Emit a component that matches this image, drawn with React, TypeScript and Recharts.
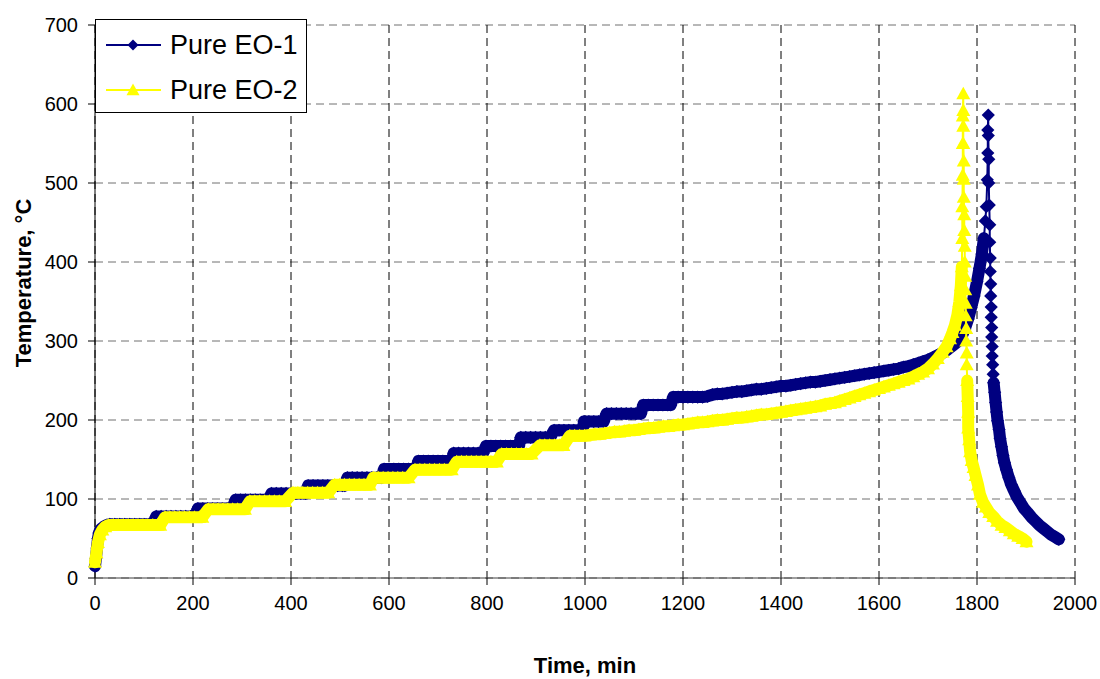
import {
  ScatterChart,
  Scatter,
  XAxis,
  YAxis,
  CartesianGrid,
  Legend,
} from "recharts";

// time (min), temperature (°C)
const eo1Points: [number, number][] = [
  [0, 15], [2, 25], [4, 38], [6, 50], [8, 57], [12, 62], [18, 65], [24, 67],
  [30, 68], [40, 68], [50, 68], [60, 68], [70, 68], [80, 68], [90, 68], [100, 68], [110, 68], [118, 68],
  [125, 78], [135, 78], [145, 78], [155, 78], [165, 78], [175, 78], [185, 78], [195, 78], [204, 78],
  [210, 88], [220, 88], [230, 88], [240, 88], [250, 88], [260, 88], [270, 88], [280, 88],
  [287, 99], [297, 99], [307, 99], [317, 99], [327, 99], [337, 99], [347, 99], [355, 99],
  [360, 107], [370, 107], [380, 107], [390, 107], [400, 107], [410, 107], [420, 107], [430, 107],
  [435, 117], [445, 117], [455, 117], [465, 117], [475, 117], [485, 117], [495, 117], [505, 117], [510, 117],
  [515, 127], [525, 127], [535, 127], [545, 127], [555, 127], [565, 127], [575, 127], [585, 127],
  [590, 138], [600, 138], [610, 138], [620, 138], [630, 138], [640, 138], [650, 138], [655, 138],
  [660, 148], [670, 148], [680, 148], [690, 148], [700, 148], [710, 148], [720, 148], [728, 148],
  [732, 158], [742, 158], [752, 158], [762, 158], [772, 158], [782, 158], [792, 158],
  [798, 167], [808, 167], [818, 167], [828, 167], [838, 167], [848, 167], [858, 167], [865, 167],
  [869, 178], [879, 178], [889, 178], [899, 178], [909, 178], [919, 178], [929, 178],
  [937, 187], [947, 187], [957, 187], [967, 187], [977, 187], [987, 187], [995, 187],
  [998, 198], [1008, 198], [1018, 198], [1028, 198], [1038, 198],
  [1044, 208], [1054, 208], [1064, 208], [1074, 208], [1084, 208], [1094, 208], [1104, 208], [1114, 208],
  [1119, 219], [1129, 219], [1139, 219], [1149, 219], [1159, 219], [1169, 219], [1175, 219],
  [1180, 229], [1190, 229], [1200, 229], [1210, 229], [1220, 229], [1230, 229], [1240, 229], [1250, 230],
  [1260, 232], [1270, 233], [1280, 233], [1290, 234], [1300, 235], [1310, 236], [1320, 236], [1330, 237],
  [1340, 238], [1350, 239], [1360, 239], [1370, 240], [1380, 241], [1390, 242], [1400, 243], [1410, 243],
  [1420, 244], [1430, 245], [1440, 246], [1450, 247], [1460, 248], [1470, 248], [1480, 249], [1490, 250],
  [1500, 251], [1510, 252], [1520, 253], [1530, 254], [1540, 255], [1550, 256], [1560, 257], [1570, 258],
  [1580, 259], [1590, 260], [1600, 261], [1610, 262], [1620, 263], [1630, 264], [1640, 265], [1650, 267],
  [1660, 268], [1670, 270], [1680, 272], [1690, 274], [1700, 276], [1710, 279], [1720, 282], [1730, 285],
  [1740, 289], [1750, 294], [1760, 299], [1768, 305], [1775, 315], [1782, 328], [1788, 342], [1794, 357],
  [1800, 375], [1805, 392], [1810, 410], [1814, 430], [1817, 452], [1819, 470], [1821, 504], [1822, 538],
  [1822, 567], [1823, 586],
  [1823, 560], [1824, 530], [1824, 500], [1825, 472], [1826, 447], [1826, 425], [1827, 405], [1827, 388],
  [1828, 372], [1828, 357], [1829, 343], [1829, 330], [1830, 317], [1830, 305], [1831, 293], [1831, 281],
  [1832, 270], [1833, 258], [1834, 247], [1836, 235], [1838, 222], [1840, 210], [1842, 199], [1845, 188],
  [1847, 177], [1850, 166], [1853, 155], [1856, 146], [1860, 137], [1865, 127], [1870, 118], [1876, 110],
  [1882, 102], [1889, 95], [1896, 88], [1903, 83], [1911, 77], [1919, 72], [1927, 67], [1935, 63],
  [1943, 59], [1951, 55], [1959, 52], [1967, 49],
];

const eo2Points: [number, number][] = [
  [0, 20], [3, 32], [6, 45], [10, 55], [15, 61], [21, 65],
  [28, 67], [38, 67], [48, 67], [58, 67], [68, 67], [78, 67], [88, 67], [98, 67], [108, 67], [118, 67], [128, 67], [133, 67],
  [143, 77], [153, 77], [163, 77], [173, 77], [183, 77], [193, 77], [203, 77], [213, 77], [219, 77],
  [231, 87], [241, 87], [251, 87], [261, 87], [271, 87], [281, 87], [291, 87], [301, 87], [306, 87],
  [316, 97], [326, 97], [336, 97], [346, 97], [356, 97], [366, 97], [376, 97], [388, 97],
  [404, 108], [414, 108], [424, 108], [434, 108], [444, 108], [454, 108], [464, 108], [476, 108],
  [489, 118], [499, 118], [509, 118], [519, 118], [529, 118], [539, 118], [549, 118], [561, 118],
  [568, 127], [578, 127], [588, 127], [598, 127], [608, 127], [618, 127], [628, 127], [640, 127],
  [653, 137], [663, 137], [673, 137], [683, 137], [693, 137], [703, 137], [713, 137], [728, 137],
  [738, 147], [748, 147], [758, 147], [768, 147], [778, 147], [788, 147], [798, 147], [808, 147], [820, 147],
  [830, 157], [840, 157], [850, 157], [860, 157], [870, 157], [880, 157], [891, 157],
  [908, 168], [918, 168], [928, 168], [938, 168], [948, 168], [956, 168],
  [969, 180], [979, 180], [989, 180], [999, 180],
  [1010, 181], [1020, 182], [1030, 182], [1040, 183], [1050, 184], [1060, 185], [1070, 185], [1080, 186],
  [1090, 187], [1100, 187], [1110, 188], [1120, 189], [1130, 190], [1140, 190], [1150, 191], [1160, 192],
  [1170, 192], [1180, 193], [1190, 194], [1200, 194], [1210, 195], [1220, 196], [1230, 197], [1240, 197],
  [1250, 198], [1260, 199], [1270, 200], [1280, 200], [1290, 201], [1300, 202], [1310, 203], [1320, 203],
  [1330, 204], [1340, 205], [1350, 206], [1360, 207], [1370, 207], [1380, 208], [1390, 209], [1400, 210],
  [1410, 211], [1420, 212], [1430, 213], [1440, 214], [1450, 215], [1460, 216], [1470, 217], [1480, 218],
  [1490, 220], [1500, 221], [1510, 222], [1520, 224], [1530, 226], [1540, 228], [1550, 230], [1560, 232],
  [1570, 234], [1580, 236], [1590, 238], [1600, 240], [1610, 242], [1620, 244], [1630, 246], [1640, 248],
  [1650, 250], [1660, 252], [1670, 255], [1680, 258], [1690, 261], [1700, 265], [1710, 271], [1720, 278],
  [1730, 286], [1738, 293], [1745, 303], [1750, 311], [1755, 320], [1760, 333], [1764, 350], [1767, 370],
  [1769, 394], [1770, 430], [1770, 470], [1771, 510], [1771, 550], [1771, 585], [1772, 613],
  [1772, 592], [1772, 572], [1772, 550], [1773, 528], [1773, 505], [1773, 482], [1774, 460], [1774, 440],
  [1775, 420], [1775, 400], [1776, 382], [1776, 365], [1777, 348], [1777, 332], [1778, 316], [1778, 300],
  [1779, 285], [1779, 270], [1780, 250], [1781, 230], [1782, 210], [1782, 190], [1784, 175], [1786, 160],
  [1789, 149], [1793, 140], [1797, 130], [1802, 118], [1806, 106], [1812, 96], [1818, 90], [1825, 83],
  [1833, 78], [1841, 72], [1850, 67], [1858, 64], [1867, 60], [1875, 56], [1884, 53], [1893, 50], [1901, 46],
];

const xTicks = [0, 200, 400, 600, 800, 1000, 1200, 1400, 1600, 1800, 2000];
const yTicks = [0, 100, 200, 300, 400, 500, 600, 700];

const FONT = "'Liberation Sans', Arial, Helvetica, sans-serif";
const NAVY = "#000080";
const YELLOW = "#ffff00";

const toRows = (pts: [number, number][]) => pts.map(([t, T]) => ({ t, T }));

// the dense run of markers before and after the spike reads as a solid band
function bandParts(pts: [number, number][], riseMax: number, fallMax: number) {
  let peak = 0;
  pts.forEach((p, i) => {
    if (p[1] > pts[peak][1]) peak = i;
  });
  const before = pts.filter((p, i) => i < peak && p[1] <= riseMax);
  const after = pts.filter((p, i) => i > peak && p[1] <= fallMax);
  return [toRows(before), toRows(after)];
}

const [eo1Before, eo1After] = bandParts(eo1Points, 430, 250);
const [eo2Before, eo2After] = bandParts(eo2Points, 394, 250);

const diamond = (cx: number, cy: number, r: number) =>
  `${cx},${cy - r} ${cx + r},${cy} ${cx},${cy + r} ${cx - r},${cy}`;
const triangle = (cx: number, cy: number, r: number) =>
  `${cx},${cy - r} ${cx + r},${cy + r * 0.8} ${cx - r},${cy + r * 0.8}`;

const DiamondDot = (props: any) => (
  <polygon points={diamond(props.cx, props.cy, 6.6)} fill={NAVY} />
);
const TriangleDot = (props: any) => (
  <polygon points={triangle(props.cx, props.cy, 7)} fill={YELLOW} />
);
const NoDot = () => <g />;

const bandLine = (color: string) => ({
  stroke: color,
  strokeWidth: 12,
  strokeLinejoin: "round",
  strokeLinecap: "round",
});

function LegendBox() {
  const rows = [
    { name: "Pure EO-1", color: NAVY, mark: diamond(37, 18, 5.5) },
    { name: "Pure EO-2", color: YELLOW, mark: triangle(37, 18, 6.5) },
  ];
  return (
    <div
      style={{
        width: 212,
        height: 94,
        boxSizing: "border-box",
        border: "1px solid #000",
        background: "#fff",
        position: "relative",
        fontFamily: FONT,
        fontSize: 27,
        color: "#000",
      }}
    >
      {rows.map((r, i) => (
        <div
          key={r.name}
          style={{
            position: "absolute",
            left: 0,
            top: i === 0 ? 7 : 52,
            height: 36,
            display: "flex",
            alignItems: "center",
            whiteSpace: "nowrap",
          }}
        >
          <svg width={74} height={36} style={{ display: "block" }}>
            <line x1={10} x2={65} y1={18} y2={18} stroke={r.color} strokeWidth={2} />
            <polygon points={r.mark} fill={r.color} />
          </svg>
          <span style={{ lineHeight: "36px" }}>{r.name}</span>
        </div>
      ))}
    </div>
  );
}

export default function App() {
  return (
    <div style={{ position: "absolute", left: 0, top: 0, background: "#fff" }}>
      <ScatterChart
        width={1100}
        height={679}
        margin={{ top: 25, right: 25, bottom: 0, left: 0 }}
      >
        <CartesianGrid
          horizontal
          vertical={false}
          stroke="#707070"
          strokeDasharray="8 5"
        />
        <CartesianGrid
          horizontal={false}
          vertical
          stroke="#000"
          strokeDasharray="8 5"
        />
        <XAxis
          type="number"
          dataKey="t"
          domain={[0, 2000]}
          ticks={xTicks}
          interval={0}
          height={101}
          tickSize={7}
          tickMargin={11}
          axisLine={{ stroke: "#404040" }}
          tickLine={{ stroke: "#000" }}
          tick={{ fill: "#000", fontSize: 20, fontFamily: FONT }}
          label={() => (
            <text
              x={585}
              y={673}
              textAnchor="middle"
              fontFamily={FONT}
              fontSize={22}
              fontWeight="bold"
              fill="#000"
            >
              Time, min
            </text>
          )}
        />
        <YAxis
          type="number"
          dataKey="T"
          domain={[0, 700]}
          ticks={yTicks}
          interval={0}
          width={95}
          tickSize={7}
          tickMargin={10}
          axisLine={{ stroke: "#000" }}
          tickLine={{ stroke: "#000" }}
          tick={{ fill: "#000", fontSize: 20, fontFamily: FONT }}
          label={() => (
            <text
              x={31}
              y={283}
              transform="rotate(-90, 31, 283)"
              textAnchor="middle"
              fontFamily={FONT}
              fontSize={22}
              fontWeight="bold"
              fill="#000"
            >
              Temperature, °C
            </text>
          )}
        />
        <Legend
          layout="horizontal"
          verticalAlign="middle"
          align="center"
          wrapperStyle={{ left: 95, top: 19, width: 212, height: 94 }}
          content={() => <LegendBox />}
        />
        <Scatter
          data={eo1Before}
          line={bandLine(NAVY)}
          shape={NoDot}
          legendType="none"
          isAnimationActive={false}
        />
        <Scatter
          data={eo1After}
          line={bandLine(NAVY)}
          shape={NoDot}
          legendType="none"
          isAnimationActive={false}
        />
        <Scatter
          name="Pure EO-1"
          data={toRows(eo1Points)}
          line={{ stroke: NAVY, strokeWidth: 2 }}
          shape={DiamondDot}
          isAnimationActive={false}
        />
        <Scatter
          data={eo2Before}
          line={bandLine(YELLOW)}
          shape={NoDot}
          legendType="none"
          isAnimationActive={false}
        />
        <Scatter
          data={eo2After}
          line={bandLine(YELLOW)}
          shape={NoDot}
          legendType="none"
          isAnimationActive={false}
        />
        <Scatter
          name="Pure EO-2"
          data={toRows(eo2Points)}
          line={{ stroke: YELLOW, strokeWidth: 2 }}
          shape={TriangleDot}
          isAnimationActive={false}
        />
      </ScatterChart>
    </div>
  );
}
